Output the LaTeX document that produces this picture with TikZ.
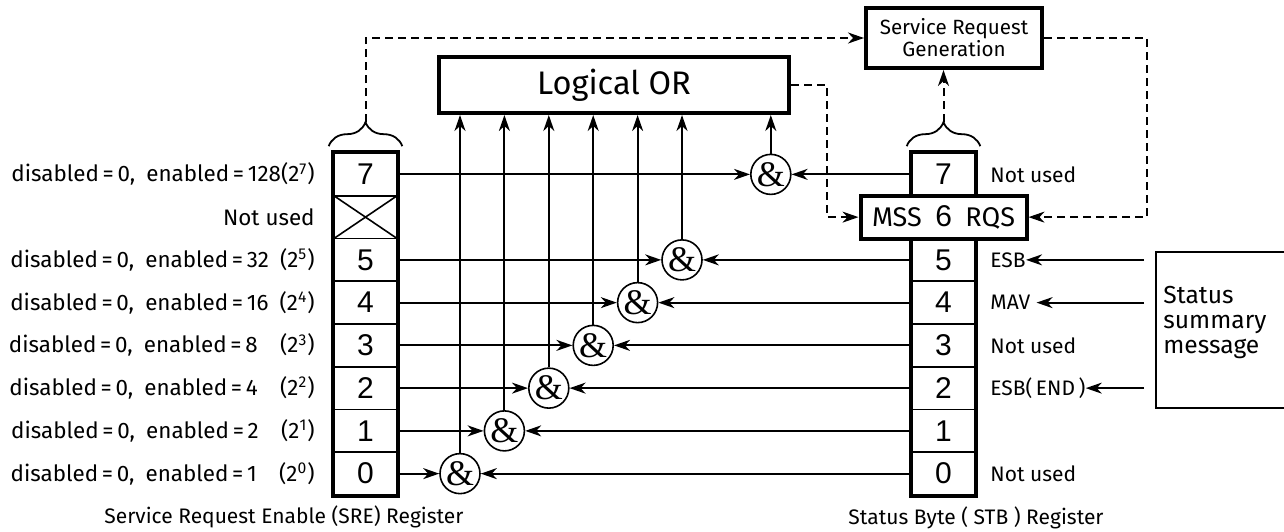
\documentclass[tikz,border=0pt]{standalone}
\usepackage{fontspec}
\setmainfont{Fira Sans}
\newfontfamily\digitfont{Liberation Sans}
\newfontfamily\ampfont{Liberation Serif}
\usetikzlibrary{arrows.meta,decorations.pathreplacing,positioning}

\begin{document}
\begin{tikzpicture}[x=0.5pt,y=-0.5pt,
    cell/.style={draw, line width=0.8pt, minimum width=32pt, minimum height=21.4pt,
      inner sep=0pt, font=\digitfont\fontsize{15}{15}\selectfont},
    gate/.style={circle, draw, line width=0.8pt, minimum size=20pt, inner sep=0pt,
      font=\ampfont\fontsize{18}{18}\selectfont},
    wire/.style={line width=1pt, -{Stealth[length=8pt,width=5.5pt,inset=2.5pt]}},
    dashline/.style={wire, dash pattern=on 4pt off 2.5pt},
    lbl/.style={font=\fontsize{10.5}{12}\selectfont, inner sep=0pt},
    bigbox/.style={draw, line width=2pt, inner sep=1pt},
  ]
  \useasboundingbox (0,0) rectangle (1284,531);
  \def\regtop{153}
  \def\rowh{42.75}
  \def\srex{365.5}
  \def\stbx{943.5}

  % the two registers
  \foreach \b in {0,...,7} {
    \pgfmathsetmacro\yc{\regtop + (7.5-\b)*\rowh}
    \node[cell] (sre\b) at (\srex,\yc) {\ifnum\b=6 \else\b\fi};
    \node[cell] (stb\b) at (\stbx,\yc) {\ifnum\b=6 \else\b\fi};
  }
  \draw[line width=2pt] (sre7.north west) rectangle (sre0.south east);
  \draw[line width=2pt] (stb7.north west) rectangle (stb0.south east);
  \draw[line width=0.8pt] (sre6.north west) -- (sre6.south east)
    (sre6.south west) -- (sre6.north east);
  \node[bigbox, fill=white, minimum width=83pt, minimum height=21.5pt,
    font=\fontsize{13.5}{13.5}\selectfont] (mss) at (stb6)
    {MSS\enspace{\digitfont\fontsize{15}{15}\selectfont 6}\enspace RQS};

  % boxes on top
  \node[bigbox, minimum width=175pt, minimum height=28pt,
    font=\fontsize{16.3}{16.3}\selectfont] (lor) at (614,85) {Logical OR};
  \node[bigbox, minimum width=88pt, minimum height=30pt, align=center,
    font=\fontsize{10.3}{11}\selectfont] (srg) at (954,38) {Service Request\\Generation};

  % AND gates
  \foreach \b in {0,1,2,3,4,5,7} {
    \pgfmathsetmacro\xc{460 + 44.4*\b}
    \node[gate] (and\b) at (\xc,0 |- sre\b) {\&};
    \draw[wire] (sre\b.east) -- (and\b);
    \draw[wire] (stb\b.west) -- (and\b);
    \draw[wire] (and\b) -- (and\b |- lor.south);
  }

  % braces and dashed paths
  \draw[line width=0.9pt, decorate, decoration={brace, amplitude=12pt}]
    ([xshift=-2pt,yshift=3pt]sre7.north west) -- ([xshift=2pt,yshift=3pt]sre7.north east);
  \draw[line width=0.9pt, decorate, decoration={brace, amplitude=12pt}]
    ([xshift=-2pt,yshift=3pt]stb7.north west) -- ([xshift=2pt,yshift=3pt]stb7.north east);
  \coordinate (sretip) at ([yshift=15pt]sre7.north);
  \coordinate (stbtip) at ([yshift=15pt]stb7.north);
  \draw[dashline] (sretip) |- (srg.west);
  \draw[dashline] (stbtip) -- (stbtip |- srg.south);
  \draw[dashline] (srg.east) -- ++(103,0) |- (mss.east);
  \draw[dashline] (lor.east) -- ++(36,0) |- (mss.west);

  % left labels
  \foreach \b/\txt in {7/{128(2\textsuperscript{7})}, 5/{32\enspace(2\textsuperscript{5})},
      4/{16\enspace(2\textsuperscript{4})}, 3/{8\quad(2\textsuperscript{3})},
      2/{4\quad(2\textsuperscript{2})}, 1/{2\quad(2\textsuperscript{1})},
      0/{1\quad(2\textsuperscript{0})}}
    \node[lbl, anchor=east, font=\fontsize{11.2}{12}\selectfont] (en\b) at (315,0 |- sre\b)
      {disabled\,=\,0,\enspace enabled\,=\,\txt};
  \node[lbl, anchor=east, font=\fontsize{11.2}{12}\selectfont] (en6) at (315,0 |- sre6) {Not used};

  % right labels
  \node[lbl, anchor=west] (nu7) at (990,0 |- stb7) {Not used};
  \node[lbl, anchor=west] (esb) at (990,0 |- stb5) {ESB};
  \node[lbl, anchor=west] (mav) at (990,0 |- stb4) {MAV};
  \node[lbl, anchor=west] (nu3) at (990,0 |- stb3) {Not used};
  \node[lbl, anchor=west] (esbend) at (990,0 |- stb2) {ESB(\,END\,)};
  \node[lbl, anchor=west] (nu0) at (990,0 |- stb0) {Not used};

  % status summary message
  \coordinate (ssmnw) at (1156,252);
  \coordinate (ssmsw) at (1156,408);
  \draw[line width=0.9pt] (ssmnw -| 1284,0) -- (ssmnw) -- (ssmsw) -- (ssmsw -| 1284,0);
  \node[anchor=north west, align=left, inner sep=0pt,
    font=\fontsize{12.3}{12.5}\selectfont] (ssm) at (1163,286) {Status\\summary\\message};
  \draw[wire] ([xshift=-6pt]ssmnw |- esb.east) -- (esb.east);
  \draw[wire] ([xshift=-6pt]ssmnw |- mav.east) -- ([xshift=3pt]mav.east);
  \draw[wire] ([xshift=-6pt]ssmnw |- esbend.east) -- (esbend.east);

  % captions
  \node[lbl] (srecap) at (284,517) {Service Request Enable (SRE) Register};
  \node[lbl] (stbcap) at (976,518) {Status Byte ( STB ) Register};
\end{tikzpicture}
\end{document}
